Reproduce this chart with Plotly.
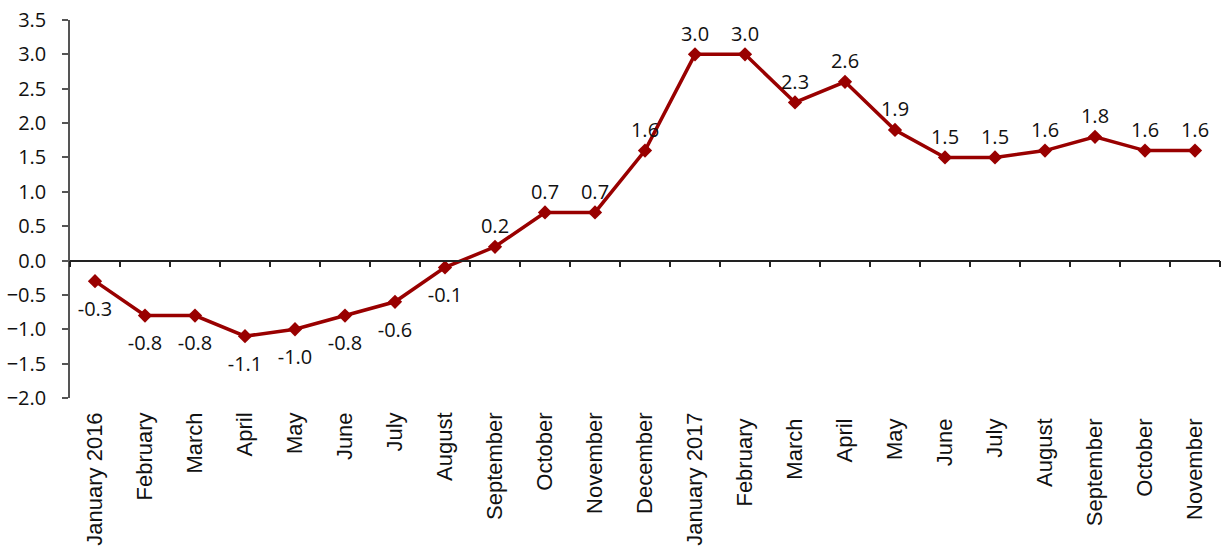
import plotly.graph_objects as go

categories = ["January 2016", "February", "March", "April", "May", "June", "July",
              "August", "September", "October", "November", "December",
              "January 2017", "February ", "March ", "April ", "May ", "June ",
              "July ", "August ", "September ", "October ", "November "]
values = [-0.3, -0.8, -0.8, -1.1, -1.0, -0.8, -0.6, -0.1, 0.2, 0.7, 0.7, 1.6,
          3.0, 3.0, 2.3, 2.6, 1.9, 1.5, 1.5, 1.6, 1.8, 1.6, 1.6]
y_ticks = [-2.0, -1.5, -1.0, -0.5, 0.0, 0.5, 1.0, 1.5, 2.0, 2.5, 3.0, 3.5]

color = "#990000"
label_font = dict(family="Open Sans", size=20, color="#111111")

pos_x = [c for c, v in zip(categories, values) if v >= 0]
pos_y = [v for v in values if v >= 0]
neg_x = [c for c, v in zip(categories, values) if v < 0]
neg_y = [v for v in values if v < 0]

fig = go.Figure()
fig.add_trace(go.Scatter(
    x=categories, y=values, mode="lines+markers",
    line=dict(color=color, width=3.5),
    marker=dict(symbol="diamond", size=11, color=color),
    hoverinfo="skip",
))
# labels above (positive values)
fig.add_trace(go.Scatter(
    x=pos_x, y=pos_y, mode="markers+text",
    marker=dict(size=12, opacity=0),
    text=[f"{v:.1f}" for v in pos_y], textposition="top center",
    textfont=label_font, cliponaxis=False, hoverinfo="skip",
))
# labels below (negative values)
fig.add_trace(go.Scatter(
    x=neg_x, y=neg_y, mode="markers+text",
    marker=dict(size=30, opacity=0),
    text=[f"{v:.1f}" for v in neg_y], textposition="bottom center",
    textfont=label_font, cliponaxis=False, hoverinfo="skip",
))
# invisible trace for the zero-line axis with tick marks
fig.add_trace(go.Scatter(x=categories, y=values, xaxis="x2", mode="none",
                         showlegend=False, hoverinfo="skip"))

ymin, ymax = -2.0, 3.5
fig.update_layout(
    width=1221, height=549,
    margin=dict(l=70, r=1, t=20, b=151),
    paper_bgcolor="white", plot_bgcolor="white",
    showlegend=False,
    xaxis=dict(type="category", categoryorder="array", categoryarray=categories,
               range=[-0.5, len(categories) - 0.5],
               showline=False, showgrid=False, zeroline=False, ticks="",
               tickangle=-90, ticklabelstandoff=9,
               tickfont=dict(family="Liberation Sans", size=22, color="#111111")),
    xaxis2=dict(type="category", categoryorder="array", categoryarray=categories,
                overlaying="x", anchor="free", position=(0 - ymin) / (ymax - ymin),
                range=[-0.5, len(categories) - 0.5],
                showline=True, linecolor="#222222", linewidth=1.5,
                ticks="outside", ticklen=6, tickcolor="#222222", tickwidth=1.5,
                tickson="boundaries", showticklabels=False, showgrid=False,
                zeroline=False),
    yaxis=dict(range=[ymin, ymax], tickvals=y_ticks, tickformat=".1f",
               showline=True, linecolor="#555555", linewidth=1.5,
               ticks="outside", ticklen=6, tickcolor="#555555", tickwidth=1.5,
               showgrid=False, zeroline=False, ticklabelstandoff=12,
               tickfont=dict(family="Open Sans", size=20, color="#111111")),
)

fig.write_html("out.html", config={"displayModeBar": False})
with open("out.html", encoding="utf-8") as f:
    html = f.read()
html = html.replace("<body>", '<body style="margin:0;padding:0;overflow:hidden">', 1)
with open("out.html", "w", encoding="utf-8") as f:
    f.write(html)
